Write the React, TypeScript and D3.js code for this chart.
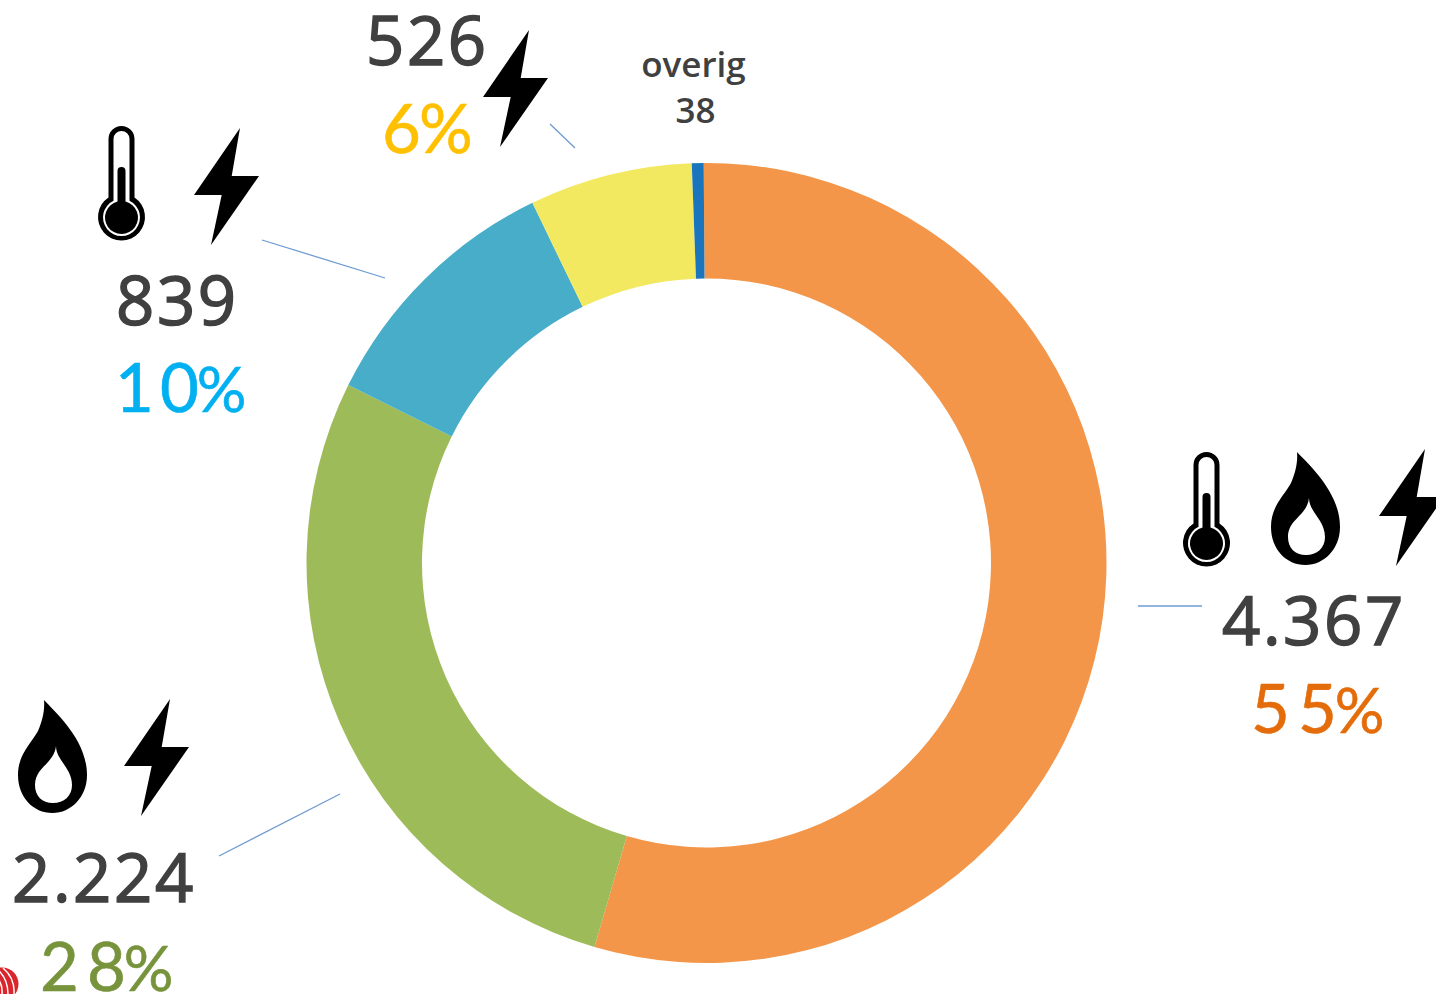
import React from "react";
import * as d3 from "d3";

const categories = ["warmte-gas-elektriciteit", "gas-elektriciteit", "warmte-elektriciteit", "elektriciteit", "overig"];
const values = [4367, 2224, 839, 526, 38];
const colors = ["#F39649", "#9EBB5A", "#48ADC8", "#F3E960", "#1A75BC"];

const valueLabels = [
  { text: "4.367", x: 1222, y: 645 },
  { text: "2.224", x: 12, y: 902 },
  { text: "839", x: 116, y: 325 },
  { text: "526", x: 366, y: 65 },
];
const pctLabels = [
  { digits: ["5", "5"], x: 1251, y: 733, color: "#E46C0A", gap: 8 },
  { digits: ["2", "8"], x: 40, y: 991, color: "#77933C", gap: 8 },
  { digits: ["1", "0"], x: 115, y: 412, color: "#00B0F0", gap: 6 },
  { digits: ["6"], x: 382, y: 153, color: "#FFC000", gap: 0 },
];
const leaders = [
  [1138, 606, 1202, 606],
  [219, 856, 340, 794],
  [262, 240, 385, 278],
  [550, 124, 575, 148],
];
const bolts = [[1379, 449], [124, 699], [194, 128], [483, 30]];
const thermometers = [[1183, 452], [98, 126]];
const flames = [[1271, 452], [18, 700]];

const BOLT = "M46,0L37.7,48L65,48L17,117L27.7,67L0,67Z";
const FLAME =
  "M26,0C38,13 69,40 69,75C69,97 53,113 34.5,113C15,113 0,97 0,75C0,54 13,44 20,31C24,22 27,11 26,0Z" +
  "M38,46C38,60 54,68 54,85C54,96 46,103 35,103C24,103 17,96 17,85C17,67 36,64 38,46Z";
const THERMO_OUTER =
  "M10.5,13A13,13 0 0 1 36.5,13L36.5,71.5A23.5,23.5 0 1 1 10.5,71.5Z" +
  "M15.5,13A8,8 0 0 1 31.5,13L31.5,74.8A18.5,18.5 0 1 1 15.5,74.8Z";
const THERMO_CORE = "M19.5,45A4,4 0 0 1 27.5,45L27.5,75.5A16.5,16.5 0 1 1 19.5,75.5Z";
const ROTATION = (-0.4 * Math.PI) / 180;

export default function App() {
  const pie = d3
    .pie<number>()
    .sort(null)
    .startAngle(ROTATION)
    .endAngle(2 * Math.PI + ROTATION)(values);
  const arc = d3.arc<d3.PieArcDatum<number>>().innerRadius(284.5).outerRadius(400);
  const cx = 706.5;
  const cy = 563;
  return (
    <svg
      width={1436}
      height={994}
      style={{ position: "absolute", left: 0, top: 0, display: "block", background: "#fff" }}
    >
      <g transform={`translate(${cx},${cy})`}>
        {pie.map((d, i) => (
          <path key={categories[i]} d={arc(d) ?? ""} fill={colors[i]} />
        ))}
      </g>
      {leaders.map((l, i) => (
        <line key={i} x1={l[0]} y1={l[1]} x2={l[2]} y2={l[3]} stroke="#6E9BD3" strokeWidth={1.3} />
      ))}
      {thermometers.map((p, i) => (
        <g key={i} transform={`translate(${p[0]},${p[1]})`}>
          <path d={THERMO_OUTER} fillRule="evenodd" fill="#000" />
          <path d={THERMO_CORE} fill="#000" />
        </g>
      ))}
      {flames.map((p, i) => (
        <path key={i} transform={`translate(${p[0]},${p[1]})`} d={FLAME} fillRule="evenodd" fill="#000" />
      ))}
      {bolts.map((p, i) => (
        <path key={i} transform={`translate(${p[0]},${p[1]})`} d={BOLT} fill="#000" />
      ))}
      {valueLabels.map((t) => (
        <text
          key={t.text}
          x={t.x}
          y={t.y}
          fontFamily="'Open Sans', sans-serif"
          fontSize={67}
          letterSpacing={2.6}
          fill="#404040"
          stroke="#404040"
          strokeWidth={1.5}
        >
          {t.text}
        </text>
      ))}
      {pctLabels.map((t) => (
        <text
          key={t.digits.join("")}
          x={t.x}
          y={t.y}
          fontFamily="Lato, sans-serif"
          fontSize={67}
          fill={t.color}
          stroke={t.color}
          strokeWidth={0.6}
        >
          {t.digits.map((d, i) => (
            <tspan key={i} letterSpacing={i === 0 && t.digits.length > 1 ? t.gap : -2}>
              {d}
            </tspan>
          ))}
          <tspan fontSize={t.digits.length > 1 ? 62 : 67}>%</tspan>
        </text>
      ))}
      <text x={693.5} y={77} textAnchor="middle" fontFamily="'Open Sans', sans-serif" fontWeight={600} fontSize={35} fill="#404040">
        overig
      </text>
      <text x={695.5} y={123} textAnchor="middle" fontFamily="'Open Sans', sans-serif" fontWeight={600} fontSize={35} fill="#404040">
        38
      </text>
      <g>
        <circle cx={2} cy={984} r={16.5} fill="#D9252B" />
        <path d="M-4,968Q8,978 8,994M3,968Q15,978 14,994M-4,976Q3,984 2,994" fill="none" stroke="#fff" strokeWidth={1.5} />
      </g>
    </svg>
  );
}
